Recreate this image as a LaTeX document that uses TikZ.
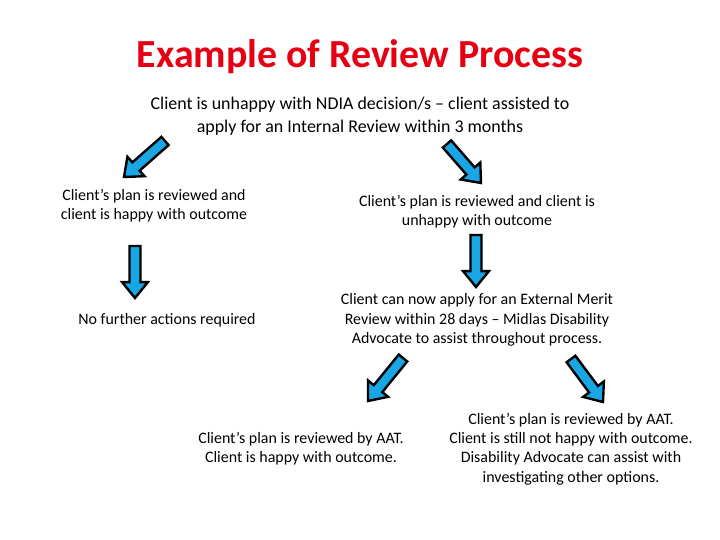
\documentclass[tikz,border=0pt]{standalone}
\usepackage{fontspec}
\setmainfont{Carlito}
\usetikzlibrary{calc}
\definecolor{titlered}{RGB}{230,0,18}
\definecolor{arrowblue}{RGB}{24,166,228}
\tikzset{
  body/.style={align=center, inner sep=0pt, font=\fontsize{16}{19.3}\selectfont},
  toptext/.style={align=center, inner sep=0pt, font=\fontsize{18}{23}\selectfont},
  blockarrow/.style={draw=black, line width=2.4pt, fill=arrowblue, line join=miter},
}
\newcommand\barrow[2]{%
  \path[blockarrow]
    ($(#1)!5.5pt!90:(#2)$) --
    ($($(#2)!16pt!(#1)$)!5.5pt!-90:(#1)$) --
    ($($(#2)!16pt!(#1)$)!13pt!-90:(#1)$) --
    (#2) --
    ($($(#2)!16pt!(#1)$)!13pt!90:(#1)$) --
    ($($(#2)!16pt!(#1)$)!5.5pt!90:(#1)$) --
    ($(#1)!5.5pt!-90:(#2)$) -- cycle;}
\begin{document}
\begin{tikzpicture}[x=1bp,y=-1bp]
\useasboundingbox (0,0) rectangle (720,540);
\node[font=\fontsize{40}{46}\bfseries\selectfont, text=titlered, inner sep=0pt] (title) at (360,57) {Example of Review Process};
\node[toptext] (start) at (360,116) {Client is unhappy with NDIA decision/s – client assisted to\\apply for an Internal Review within 3 months};
\node[body] (happy1) at (154,206) {Client’s plan is reviewed and\\client is happy with outcome};
\node[body] (unhappy1) at (477,212) {Client’s plan is reviewed and client is\\unhappy with outcome};
\node[body] (nofurther) at (167,320) {No further actions required};
\node[body] (external) at (477,320) {Client can now apply for an External Merit\\Review within 28 days – Midlas Disability\\Advocate to assist throughout process.};
\node[body] (happy2) at (301,449) {Client’s plan is reviewed by AAT.\\Client is happy with outcome.};
\node[body] (unhappy2) at (571,449) {Client’s plan is reviewed by AAT.\\Client is still not happy with outcome.\\Disability Advocate can assist with\\investigating other options.};
\coordinate (a1s) at (165,141); \coordinate (a1e) at (124,177);
\coordinate (a2s) at (447,144); \coordinate (a2e) at (481,183);
\coordinate (a3s) at (135,246); \coordinate (a3e) at (135,298);
\coordinate (a4s) at (476,235); \coordinate (a4e) at (476,287);
\coordinate (a5s) at (403,358); \coordinate (a5e) at (368,401);
\coordinate (a6s) at (571,359); \coordinate (a6e) at (603,402);
\barrow{a1s}{a1e}
\barrow{a2s}{a2e}
\barrow{a3s}{a3e}
\barrow{a4s}{a4e}
\barrow{a5s}{a5e}
\barrow{a6s}{a6e}
\end{tikzpicture}
\end{document}
